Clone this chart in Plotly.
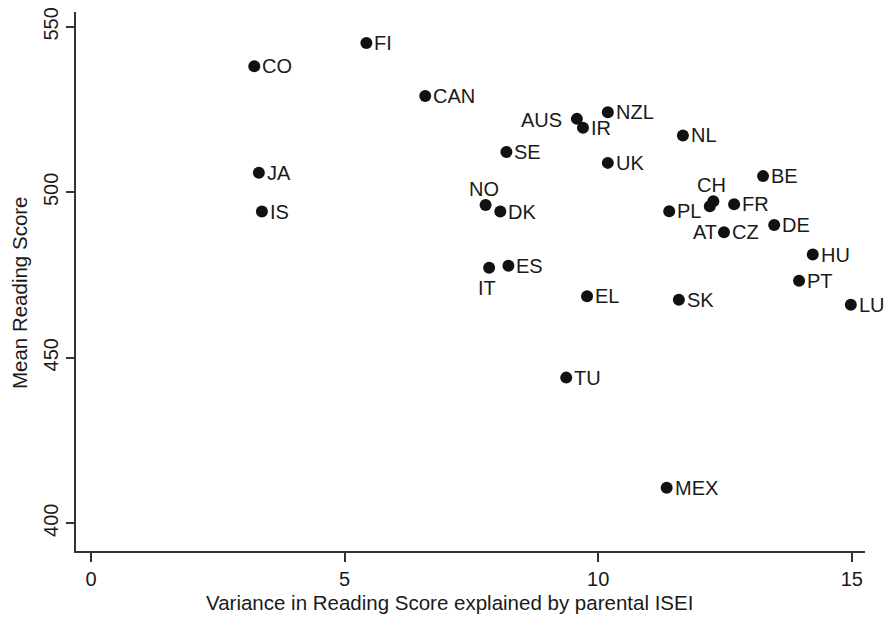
import plotly.graph_objects as go

countries = ["CO", "FI", "CAN", "JA", "IS", "AUS", "IR", "NZL", "NL", "SE", "UK",
             "NO", "DK", "PL", "IT", "ES", "EL", "TU", "MEX", "BE", "CH", "AT",
             "FR", "CZ", "DE", "HU", "PT", "SK", "LU"]
variance = [3.22, 5.43, 6.59, 3.31, 3.37, 9.58, 9.70, 10.19, 11.67, 8.19, 10.19,
            7.78, 8.07, 11.40, 7.85, 8.23, 9.78, 9.37, 11.35, 13.25, 12.27, 12.20,
            12.68, 12.48, 13.47, 14.23, 13.96, 11.59, 14.98]
reading = [538.1, 545.1, 529.1, 505.9, 494.2, 522.2, 519.5, 524.2, 517.2, 512.2, 508.9,
           496.2, 494.2, 494.3, 477.2, 477.8, 468.6, 444.0, 410.7, 504.9, 497.3, 495.8,
           496.4, 487.9, 490.1, 481.2, 473.3, 467.5, 466.0]
# label placement (clock position like Stata mlabpos)
label_pos = {"AUS": "left", "NO": "top", "IT": "bottom", "CH": "top", "AT": "lowleft"}

x_ticks = [0, 5, 10, 15]
y_ticks = [400, 450, 500, 550]
x_title = "Variance in Reading Score explained by parental ISEI"
y_title = "Mean Reading Score"

FONT = "Liberation Sans, Arial, Helvetica, sans-serif"
FS = 20
INK = "#1a1a1a"

fig = go.Figure()
fig.add_trace(go.Scatter(
    x=variance, y=reading, mode="markers",
    marker=dict(size=12, color="#111111", line=dict(width=0)),
    hoverinfo="text", text=countries, showlegend=False,
))

for c, xv, yv in zip(countries, variance, reading):
    pos = label_pos.get(c, "right")
    if pos == "right":
        kw = dict(xanchor="left", yanchor="middle", xshift=7, yshift=0)
    elif pos == "left":
        kw = dict(xanchor="right", yanchor="middle", xshift=-14, yshift=-1)
    elif pos == "top":
        kw = dict(xanchor="center", yanchor="bottom", xshift=-2, yshift=4)
    elif pos == "bottom":
        kw = dict(xanchor="center", yanchor="top", xshift=-2, yshift=-8)
    else:  # lower left
        kw = dict(xanchor="right", yanchor="middle", xshift=8, yshift=-26)
    fig.add_annotation(x=xv, y=yv, text=c, showarrow=False,
                       font=dict(family=FONT, size=FS, color=INK),
                       borderpad=0, **kw)

# axis titles (centred like the original, which centres on the whole graph)
fig.add_annotation(xref="paper", yref="paper", x=0.474, y=-0.0956, text=x_title,
                   showarrow=False, xanchor="center", yanchor="middle",
                   font=dict(family=FONT, size=20.5, color=INK))
fig.add_annotation(xref="paper", yref="paper", x=-0.0725, y=0.48, text=y_title,
                   showarrow=False, xanchor="center", yanchor="middle", textangle=-90,
                   font=dict(family=FONT, size=20.5, color=INK))

fig.update_layout(
    width=891, height=619,
    margin=dict(l=76, r=26, t=7, b=68),
    paper_bgcolor="white", plot_bgcolor="white",
    font=dict(family=FONT, size=FS, color=INK),
)
fig.update_xaxes(
    range=[-0.295, 15.26], tickvals=x_ticks, ticktext=[str(v) for v in x_ticks],
    showgrid=False, zeroline=False, showline=True, linecolor="#333333", linewidth=1.5,
    ticks="outside", ticklen=9, tickwidth=1.5, tickcolor="#333333",
    tickfont=dict(family=FONT, size=FS, color=INK),
)
fig.update_yaxes(
    range=[391.6, 554.5], tickvals=y_ticks, ticktext=[str(v) for v in y_ticks],
    showgrid=False, zeroline=False, showline=True, linecolor="#333333", linewidth=1.5,
    ticks="outside", ticklen=8, tickwidth=1.5, tickcolor="#333333",
    tickangle=-90,
    tickfont=dict(family=FONT, size=FS, color=INK),
)

fig.write_html("out.html")
